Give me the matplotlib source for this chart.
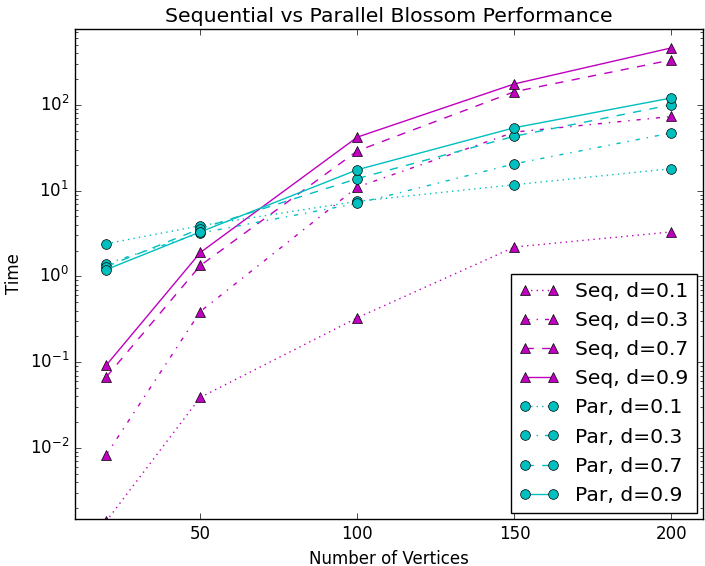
import numpy as np
from matplotlib import pyplot as plt

plt.style.use('classic')

# 顶点数
vertices = [20, 50, 100, 150, 200]
densities = ['0.1', '0.3', '0.7', '0.9']

# 串行时间
seq_01 = [0.0014, 0.039, 0.33, 2.2, 3.3]
seq_03 = [0.0083, 0.39, 11, 48, 73]
seq_07 = [0.067, 1.34, 29, 142, 333]
seq_09 = [0.092, 1.9, 42, 175, 460]

# 并行时间
par_01 = [2.4, 3.9, 7.5, 11.7, 18]
par_03 = [1.4, 3.2, 7.1, 20.5, 47]
par_07 = [1.3, 3.6, 13.8, 43, 100]
par_09 = [1.2, 3.3, 17.5, 54, 120]

styles = [':', '-.', '--', '-']

fig = plt.figure(figsize=(7.05, 5.66), dpi=100, facecolor='white')
ax = fig.add_subplot(111)
fig.subplots_adjust(left=0.106, right=0.997, top=0.949, bottom=0.083)

for d, y, ls in zip(densities, [seq_01, seq_03, seq_07, seq_09], styles):
    ax.plot(vertices, y, linestyle=ls, color='m', marker='^', markersize=7,
            label='Seq, d=' + d)
for d, y, ls in zip(densities, [par_01, par_03, par_07, par_09], styles):
    ax.plot(vertices, y, linestyle=ls, color='c', marker='o', markersize=7,
            label='Par, d=' + d)

ax.set_yscale('log')
ax.set_xlim(10, 210)
ax.set_ylim(0.00149, 766)
ax.set_xticks([50, 100, 150, 200])
ax.set_title('Sequential vs Parallel Blossom Performance', fontsize=14.7)
ax.set_xlabel('Number of Vertices')
ax.set_ylabel('Time')
ax.legend(loc='lower right', numpoints=2, fontsize=14.6, borderaxespad=0.3)

plt.savefig('out.png', dpi=100, facecolor='white')
